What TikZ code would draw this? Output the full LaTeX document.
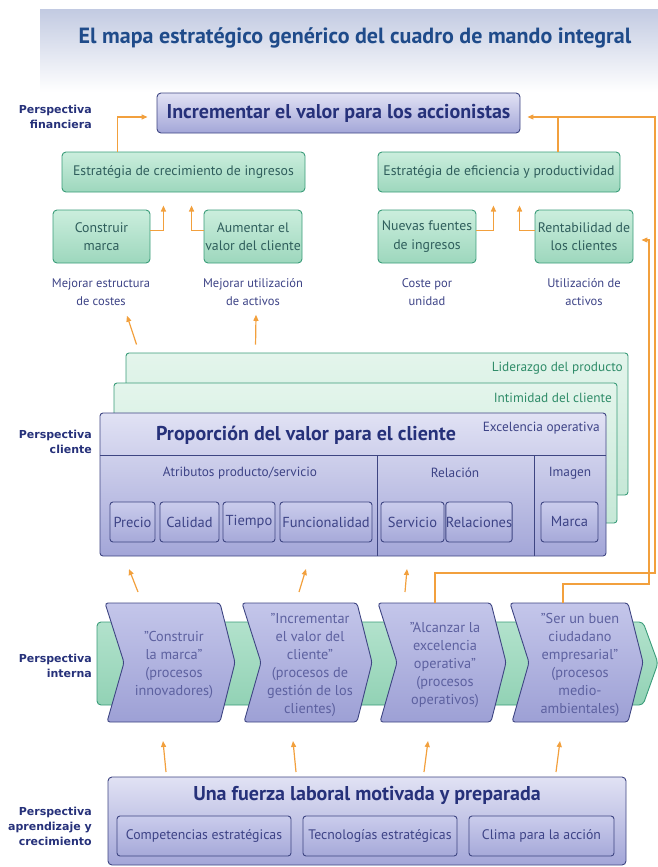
\documentclass[tikz,border=0pt]{standalone}
\usepackage{fontspec}
\setmainfont{PT Sans}
\newfontfamily\headfont{DejaVu Sans}
\usetikzlibrary{arrows.meta,calc}

\definecolor{navy}{HTML}{26317A}
\definecolor{titlec}{HTML}{1F4B8A}
\definecolor{bandtop}{HTML}{C3CBE2}
\definecolor{lavtop}{HTML}{E1E2F4}
\definecolor{lavbot}{HTML}{A3A6D8}
\definecolor{lavline}{HTML}{3E4582}
\definecolor{celltop}{HTML}{CACCEC}
\definecolor{cellbot}{HTML}{A6A9D9}
\definecolor{chevtop}{HTML}{C4C6EA}
\definecolor{chevbot}{HTML}{9DA0D5}
\definecolor{grtop}{HTML}{CBEEDD}
\definecolor{grbot}{HTML}{9DD7BD}
\definecolor{grline}{HTML}{3A9C79}
\definecolor{grtext}{HTML}{2F5E5C}
\definecolor{grlabel}{HTML}{2F8C69}
\definecolor{minttop}{HTML}{E4F5EC}
\definecolor{mintbot}{HTML}{C6E8D7}
\definecolor{bandgrtop}{HTML}{B2E2CC}
\definecolor{bandgrbot}{HTML}{92D2B5}
\definecolor{orng}{HTML}{F2A03D}
\definecolor{notec}{HTML}{3D4386}
\definecolor{chevtext}{HTML}{5D61A0}

\begin{document}
\begin{tikzpicture}[x=1pt,y=-1pt,
  lavbox/.style={draw=lavline,line width=0.9pt,rounded corners=4pt,top color=lavtop,bottom color=lavbot,inner sep=0pt},
  grbox/.style={draw=grline,line width=0.9pt,rounded corners=4pt,top color=grtop,bottom color=grbot,text=grtext,inner sep=0pt,align=center,font=\fontsize{13.8}{18.5}\selectfont},
  cellbox/.style={draw=lavline,line width=0.9pt,rounded corners=3pt,top color=celltop,bottom color=cellbot,text=notec,inner sep=0pt,font=\fontsize{14.5}{16}\selectfont},
  layer/.style={draw=grline,line width=0.9pt,rounded corners=3pt,top color=minttop,bottom color=mintbot,inner sep=0pt},
  chev/.style={draw=lavline,line width=0.9pt,rounded corners=3pt,top color=chevtop,bottom color=chevbot},
  band/.style={draw=grline,line width=0.9pt,rounded corners=4pt,top color=bandgrtop,bottom color=bandgrbot},
  arr/.style={draw=orng,line width=1.2pt,-{Triangle[length=6pt,width=5pt]}},
  link/.style={draw=orng,line width=1.2pt},
  divider/.style={draw=lavline,line width=0.9pt},
  persp/.style={font=\headfont\bfseries\fontsize{11}{15}\selectfont,text=navy,align=right,anchor=east,inner sep=0pt},
  note/.style={font=\fontsize{12.5}{18}\selectfont,text=notec,align=center,inner sep=0pt},
  chevtxt/.style={font=\fontsize{14.3}{18}\selectfont,text=chevtext,align=center,inner sep=0pt},
  bigtitle/.style={font=\bfseries\fontsize{20}{24}\selectfont,text=navy,inner sep=0pt},
  small/.style={font=\fontsize{13.3}{15}\selectfont,inner sep=0pt}
]
\useasboundingbox (0,0) rectangle (658,867);

% title band
\shade[top color=bandtop,bottom color=white] (40,10) rectangle (658,92);
\node[font=\bfseries\fontsize{22}{26}\selectfont,text=titlec] (title) at (355,38)
  {El mapa estratégico genérico del cuadro de mando integral};

% ---------------- financial perspective ----------------
\node[persp] (pf) at (92,117) {Perspectiva\\financiera};
\node[lavbox,minimum width=363pt,minimum height=40pt] (top) at (338.5,113) {};
\node[bigtitle] at (top) {Incrementar el valor para los accionistas};

\node[grbox,minimum width=243pt,minimum height=40pt] (crec) at (183.5,172) {Estratégia de crecimiento de ingresos};
\node[grbox,minimum width=242pt,minimum height=40pt] (efic) at (499,172) {Estratégia de eficiencia y productividad};

\node[grbox,minimum width=97pt,minimum height=53pt] (cm) at (101.5,236.5) {Construir\\marca};
\node[grbox,minimum width=98pt,minimum height=53pt] (av) at (253,236.5) {Aumentar el\\valor del cliente};
\node[grbox,minimum width=98pt,minimum height=53pt] (nf) at (427,236.5) {Nuevas fuentes\\de ingresos};
\node[grbox,minimum width=98pt,minimum height=53pt] (rent) at (584,236.5) {Rentabilidad de\\los clientes};

\node[note] (n1) at (101,292) {Mejorar estructura\\de costes};
\node[note] (n2) at (253,292) {Mejorar utilización\\de activos};
\node[note] (n3) at (427,292) {Coste por\\unidad};
\node[note] (n4) at (584,292) {Utilización de\\activos};

\draw[arr] ([xshift=56pt]crec.north west) |- ([xshift=-9pt,yshift=-4pt]top.west);
\draw[link] ([xshift=59pt]efic.north) -- ++(0,-35);
\draw[arr] ([yshift=6pt]cm.east) -- ++(13,0) -- ++(0,-25);
\draw[arr] ([yshift=6pt]av.west) -- ++(-12,0) -- ++(0,-25);
\draw[arr] ([yshift=6pt]nf.east) -- ++(17,0) -- ++(0,-25);
\draw[arr] ([yshift=6pt]rent.west) -- ++(-15,0) -- ++(0,-25);

% ---------------- customer perspective ----------------
\node[persp] (pc) at (92,442) {Perspectiva\\cliente};
\node[layer,minimum width=502pt,minimum height=142pt] (lid) at (377,424) {};
\node[small,text=grlabel,anchor=east] at (623,368) {Liderazgo del producto};
\node[layer,minimum width=503pt,minimum height=140pt] (inti) at (365.5,453) {};
\node[small,text=grlabel,anchor=east] at (612,398) {Intimidad del cliente};
\node[lavbox,rounded corners=3pt,minimum width=506pt,minimum height=143pt] (exc) at (353,484.5) {};
\node[small,text=notec,anchor=east] at (600,428) {Excelencia operativa};
\node[bigtitle] (prop) at (306,435) {Proporción del valor para el cliente};
\draw[divider] (100,455) -- (606,455);
\draw[divider] (377,455) -- (377,556);
\draw[divider] (534,455) -- (534,556);
\node[small,text=notec] at (240,473) {Atributos producto/servicio};
\node[small,text=notec] at (455,473) {Relación};
\node[small,text=notec] at (570,473) {Imagen};

\node[cellbox,minimum width=45pt,minimum height=40pt] (precio) at (132.5,522) {Precio};
\node[cellbox,minimum width=59pt,minimum height=40pt] (calidad) at (189.5,522) {Calidad};
\node[cellbox,minimum width=52pt,minimum height=40pt] (tiempo) at (249,522) {Tiempo};
\node[cellbox,minimum width=92pt,minimum height=40pt] (func) at (326,522) {Funcionalidad};
\node[cellbox,minimum width=63pt,minimum height=40pt] (serv) at (412.5,522) {Servicio};
\node[cellbox,minimum width=64pt,minimum height=40pt] (rel) at (479,522) {Relaciones};
\node[cellbox,minimum width=57pt,minimum height=40pt] (marca) at (569.5,522) {Marca};

\draw[arr] ([xshift=11pt,yshift=8pt]lid.north west) -- ([xshift=26pt,yshift=-10pt]n1.south);
\draw[arr] ([xshift=130pt,yshift=8pt]lid.north west) -- ([xshift=3pt,yshift=-9pt]n2.south);

% ---------------- internal perspective ----------------
\node[persp] (pi) at (92,666) {Perspectiva\\interna};
\path[band] (97,622) -- (643,622) -- (658,663) -- (643,705) -- (97,705) -- cycle;
\foreach \L/\W in {105/130,242/130,378/128,510/133}{
  \path[chev] (\L,603) -- (\L+\W-15,603) -- (\L+\W,662.5) -- (\L+\W-15,722) -- (\L+2,722) -- (\L+19,662.5) -- cycle;
}
\node[chevtxt] (ch1) at (174,665) {"Construir\\la marca"\\(procesos\\innovadores)};
\node[chevtxt] (ch2) at (310,665) {"Incrementar\\el valor del\\cliente"\\(procesos de\\gestión de los\\clientes)};
\node[chevtxt] (ch3) at (445,665) {"Alcanzar la\\excelencia\\operativa"\\(procesos\\operativos)};
\node[chevtxt] (ch4) at (580,665) {"Ser un buen\\ciudadano\\empresarial"\\(procesos\\medio-\\ambientales)};

\coordinate (a1s) at (138,592); \coordinate (a1e) at (129,569);
\coordinate (a2s) at (299,592); \coordinate (a2e) at (306,569);
\coordinate (a3s) at (405,592); \coordinate (a3e) at (407,569);
\draw[arr] (a1s) -- (a1e);
\draw[arr] (a2s) -- (a2e);
\draw[arr] (a3s) -- (a3e);

% feedback lines along the right edge
\coordinate (c3top) at (435,603);
\coordinate (c4top) at (563,603);
\coordinate (o1) at (655,573);
\coordinate (o2) at (649,584);
\draw[arr] (c3top) |- (o1) |- ([xshift=7pt,yshift=-4pt]top.east);
\draw[arr] (c4top) |- (o2) |- ([xshift=8pt,yshift=-3.5pt]rent.east);

% ---------------- learning and growth ----------------
\node[persp] (pa) at (92,826) {Perspectiva\\aprendizaje y\\crecimiento};
\node[lavbox,minimum width=518pt,minimum height=88pt] (fuerza) at (367,821) {};
\node[bigtitle] (fuerzat) at (367,795) {Una fuerza laboral motivada y preparada};
\node[cellbox,font=\fontsize{13.8}{16}\selectfont,minimum width=174pt,minimum height=40pt] (comp) at (204,836) {Competencias estratégicas};
\node[cellbox,font=\fontsize{13.8}{16}\selectfont,minimum width=154pt,minimum height=40pt] (tec) at (380,836) {Tecnologías estratégicas};
\node[cellbox,font=\fontsize{13.8}{16}\selectfont,minimum width=145pt,minimum height=40pt] (clima) at (541.5,836) {Clima para la acción};

\coordinate (b1s) at (166,772); \coordinate (b1e) at (163,741);
\coordinate (b2s) at (296,772); \coordinate (b2e) at (293,741);
\coordinate (b3s) at (424,772); \coordinate (b3e) at (428,741);
\coordinate (b4s) at (556,772); \coordinate (b4e) at (560,741);
\draw[arr] (b1s) -- (b1e);
\draw[arr] (b2s) -- (b2e);
\draw[arr] (b3s) -- (b3e);
\draw[arr] (b4s) -- (b4e);
\end{tikzpicture}
\end{document}
